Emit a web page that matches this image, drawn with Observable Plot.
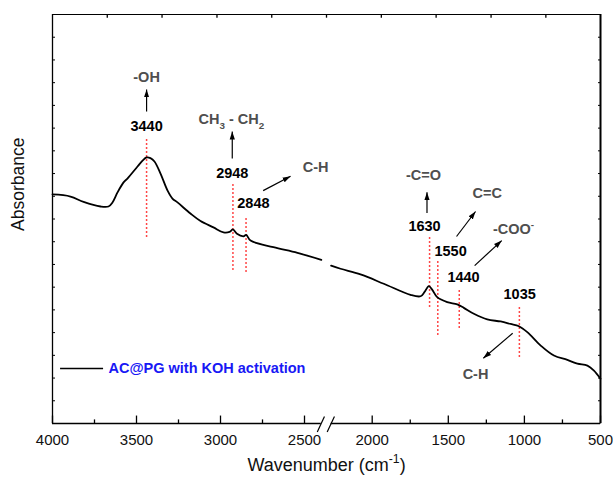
<!DOCTYPE html>
<html><head><meta charset="utf-8">
<script src="https://cdn.jsdelivr.net/npm/d3@7"></script>
<script src="https://cdn.jsdelivr.net/npm/@observablehq/plot@0.6"></script>
<style>body{margin:0;background:#fff} svg{display:block}</style>
</head><body><div id="chart"></div>
<script>
// ---- spectrum (null = axis break) ----
const wavenumber = [4000,3893,3815,3714,3667,3643,3613,3577,3554,3494,3464,3440,3417,3393,3357,3315,3286,3256,3179,3119,3042,2982,2946,2926,2902,2863,2847,2821,2685,2542,2400,
  2335,
  2270,2208,2077,1924,1748,1682,1656,1628,1605,1573,1507,1441,1398,1332,1244,1156,1091,1036,981,893,806,718,652,586,543,500];
const absorbance = [10.08,9.99,9.75,9.55,9.55,9.73,10.17,10.61,10.78,11.31,11.57,11.71,11.68,11.53,11.00,10.25,9.90,9.73,9.24,8.91,8.63,8.41,8.43,8.54,8.35,8.24,8.30,8.05,7.76,7.51,7.20,
  null,
  6.95,6.81,6.56,6.15,5.66,5.60,5.79,6.05,5.88,5.56,5.34,5.24,5.09,4.83,4.58,4.49,4.38,4.28,4.02,3.43,2.99,2.80,2.63,2.55,2.33,1.97];

// ---- axis ----
const xBreakStart = 2400, xBreakEnd = 2270;   // broken x axis
const xLeftScale = 0.168, xRightScale = 0.1522, xGap = 9.8; // relative widths of the two segments and the gap
const xMajorTicks = [4000,3500,3000,2500,2000,1500,1000,500];
const xMinorTicks = [3750,3250,2750,1750,1250,750];
const topTicks = [3674,3348,3021,2695,2331,1940,1580,1219,859];
const yTicks = [1,2,3,4,5,6,7,8,9,10,11,12,13,14,15,16,17];
const yMin = 0, yMax = 18;
const majorTickLen = 0.35, minorTickLen = 0.18, topTickLen = 0.14; // in absorbance units
const bottomFrom = [4000, 2270];
const bottomTo = [2400, 500];
const breakX1 = [2424, 2322];
const breakX2 = [2358, 2248];
const breakY1 = [-0.37, -0.37];
const breakY2 = [0.31, 0.31];

// ---- peak annotations ----
const peakPos = [3440, 2926, 2848, 1623, 1569, 1428, 1033];
const peakLabel = ["3440","2948","2848","1630","1550","1440","1035"];
const peakTop = [12.50, 10.56, 9.07, 8.19, 7.13, 5.94, 5.15];
const peakBottom = [8.19, 6.73, 6.65, 5.11, 3.87, 4.18, 2.90];
const peakLabelX = [3440, 2930, 2804, 1656, 1485, 1400, 1031];
const peakLabelY = [13.07, 11.02, 9.68, 8.68, 7.57, 6.44, 5.68];

const groupText = ["-OH", "CH{_3} - CH{_2}", "C-H", "-C=O", "C=C", "-COO{^-}", "C-H"];
const groupX = [3440, 2935, 2434, 1663, 1244, 1071, 1321];
const groupY = [15.23, 13.38, 11.28, 10.91, 10.14, 8.54, 2.16];

const arrowX1 = [3440, 2930, 2746, 1640, 1446, 1327, 1077];
const arrowY1 = [13.73, 11.66, 10.25, 9.26, 8.23, 6.95, 3.97];
const arrowX2 = [3440, 2930, 2583, 1640, 1321, 1149, 1270];
const arrowY2 = [14.70, 12.85, 10.88, 10.18, 9.33, 8.05, 2.87];

// ---- legend ----
const legendName = "AC@PG with KOH activation";
const legendLineX = [3952, 3696];
const legendY = 2.42;
const legendTextX = 3667;

const spectrum = wavenumber.map((w, i) => ({w, a: absorbance[i]}));
const peaks = peakPos.map((p, i) => ({p, label: peakLabel[i], top: peakTop[i], bottom: peakBottom[i], lx: peakLabelX[i], ly: peakLabelY[i]}));
const groups = groupText.map((t, i) => ({t, x: groupX[i], y: groupY[i]}));
const arrows = arrowX1.map((x1, i) => ({x1, y1: arrowY1[i], x2: arrowX2[i], y2: arrowY2[i]}));
const bottomSegs = bottomFrom.map((f, i) => ({f, t: bottomTo[i]}));
const breaks = breakX1.map((x1, i) => ({x1, x2: breakX2[i], y1: breakY1[i], y2: breakY2[i]}));
const tickSegs = [
  ...xMajorTicks.map(x => ({x, y1: yMin, y2: yMin + majorTickLen})),
  ...xMinorTicks.map(x => ({x, y1: yMin, y2: yMin + minorTickLen})),
  ...topTicks.map(x => ({x, y1: yMax, y2: yMax - topTickLen}))
];

// broken-axis transform: wavenumber -> continuous position along the axis
function brokenAxis(w) {
  if (w == null || isNaN(w)) return w;
  const leftW = (4000 - xBreakStart) * xLeftScale;
  if (w >= xBreakStart) return (4000 - w) * xLeftScale;
  if (w <= xBreakEnd) return leftW + xGap + (xBreakEnd - w) * xRightScale;
  return leftW + (xBreakStart - w) / (xBreakStart - xBreakEnd) * xGap;
}

const font = "'Liberation Sans', Arial, Helvetica, sans-serif";

const svg = Plot.plot({
  width: 613, height: 482,
  marginLeft: 52, marginRight: 13, marginTop: 14, marginBottom: 59,
  style: {fontFamily: font, background: "#fff", color: "#000"},
  x: {transform: brokenAxis, axis: null},
  y: {domain: [yMin, yMax]},
  marks: [
    // frame
    Plot.ruleY(bottomSegs, {y: yMin, x1: "f", x2: "t", stroke: "#000", strokeWidth: 1.3}),
    Plot.ruleY([yMax], {x1: 4000, x2: 500, stroke: "#000", strokeWidth: 1.2}),
    Plot.ruleX([4000], {y1: yMin, y2: yMax, stroke: "#000", strokeWidth: 1.3}),
    Plot.ruleX([500], {y1: yMin, y2: yMax, stroke: "#000", strokeWidth: 2}),
    Plot.link(breaks, {x1: "x1", y1: "y1", x2: "x2", y2: "y2", stroke: "#000", strokeWidth: 1.2}),
    // x ticks (inward)
    Plot.link(tickSegs, {x1: "x", x2: "x", y1: "y1", y2: "y2", stroke: "#000", strokeWidth: 1.3}),
    // y ticks (inward, no labels)
    Plot.axisY({anchor: "left", ticks: yTicks, tickSize: 3, dx: 3, fill: "none", label: null}),
    Plot.axisY({anchor: "right", ticks: yTicks, tickSize: 3, dx: -3, fill: "none", label: null}),
    // x tick labels
    Plot.text(xMajorTicks, {x: d => d, y: yMin, dy: 17, text: d => String(d), fontSize: 15, fill: "#111"}),
    // axis titles
    Plot.text(["Wavenumber (cm{^-1})"], {frameAnchor: "bottom", dy: 47, fontSize: 18, fill: "#111"}),
    Plot.text(["Absorbance"], {frameAnchor: "left", dx: -34, dy: 12, rotate: -90, fontSize: 17.5, fill: "#111"}),
    // red dotted peak markers
    Plot.ruleX(peaks, {x: "p", y1: "bottom", y2: "top", stroke: "#ff4646", strokeWidth: 1.5, strokeDasharray: "2,2"}),
    // spectrum
    Plot.line(spectrum, {x: "w", y: "a", stroke: "#000", strokeWidth: 1.8, curve: "catmull-rom"}),
    // arrows
    Plot.link(arrows, {x1: "x1", y1: "y1", x2: "x2", y2: "y2", stroke: "#000", strokeWidth: 1.2, markerEnd: "arrow"}),
    // labels
    Plot.text(peaks, {x: "lx", y: "ly", text: "label", fontSize: 14.5, fontWeight: "bold", fill: "#000"}),
    Plot.text(groups, {x: "x", y: "y", text: "t", fontSize: 14.5, fontWeight: "bold", fill: "#4f4f4f"}),
    // legend
    Plot.ruleY([legendY], {x1: legendLineX[0], x2: legendLineX[1], stroke: "#000", strokeWidth: 1.6}),
    Plot.text([legendName], {x: legendTextX, y: legendY, textAnchor: "start", fontSize: 14.5, fontWeight: "bold", fill: "#1818f5"})
  ]
});

document.getElementById("chart").append(svg);

// rich text: {_x} subscript, {^x} superscript
d3.select(svg).selectAll("text").each(function() {
  const t = this.textContent;
  if (!/\{[_^]/.test(t)) return;
  const fs = parseFloat(getComputedStyle(this).fontSize) || 14;
  const parts = t.split(/(\{[_^][^}]*\})/).filter(s => s.length);
  const sel = d3.select(this);
  sel.text(null);
  let shift = 0;
  for (const p of parts) {
    const m = p.match(/^\{([_^])([^}]*)\}$/);
    const target = m ? (m[1] === "_" ? fs * 0.35 : -fs * 0.42) : 0;
    const ts = sel.append("tspan").text(m ? m[2] : p);
    if (target !== shift) ts.attr("dy", target - shift);
    shift = target;
    if (m) ts.attr("font-size", fs * 0.68);
  }
});

// filled arrowheads
d3.select(svg).selectAll("marker").each(function() {
  const m = d3.select(this);
  m.attr("viewBox", "-10 -5 10 10").attr("markerWidth", 8).attr("markerHeight", 8)
   .attr("markerUnits", "userSpaceOnUse").attr("fill", "#000").attr("stroke", "none");
  m.selectAll("path").attr("d", "M-10,-3.3L0,0L-10,3.3Z");
});
</script>
</body></html>
